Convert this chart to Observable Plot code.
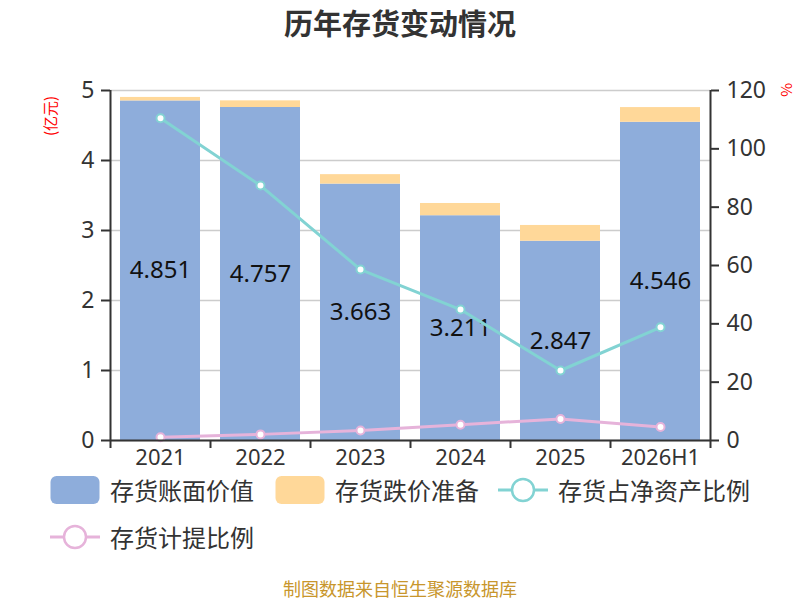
<!DOCTYPE html>
<html><head><meta charset="utf-8">
<script src="https://cdn.jsdelivr.net/npm/d3@7"></script>
<script src="https://cdn.jsdelivr.net/npm/@observablehq/plot@0.6"></script>
<style>
body{margin:0;width:800px;height:600px;position:relative;background:#fff;font-family:"Noto Sans","Noto Sans CJK SC",sans-serif;overflow:hidden;color:#333}
#title{position:absolute;left:0;top:0;width:800px;text-align:center;line-height:44px;font-size:29px;font-weight:bold;color:#333;font-family:"Noto Sans CJK SC",sans-serif}
#chart{position:absolute;left:0;top:60px}
.vlab{position:absolute;color:#f00;font-size:15px;white-space:nowrap;transform-origin:center;font-family:"Noto Sans CJK SC",sans-serif}
.leg{position:absolute;display:flex;align-items:center;height:30px;font-size:24px;line-height:24px;color:#333;white-space:nowrap;font-family:"Noto Sans CJK SC",sans-serif}
.leg svg{margin-right:10px}
#foot{position:absolute;left:0;top:576px;width:800px;text-align:center;font-size:18px;line-height:24px;color:#c8962c;font-family:"Noto Sans CJK SC",sans-serif}
</style></head><body>
<div id="title">历年存货变动情况</div>
<div id="chart"></div>
<div class="vlab" style="left:49px;top:116px;transform:translate(-50%,-50%) rotate(-90deg)">(亿元)</div>
<div class="vlab" style="left:787px;top:90px;transform:translate(-50%,-50%) rotate(90deg)">%</div>
<div id="legend"></div>
<div id="foot">制图数据来自恒生聚源数据库</div>
<script>
const categories = ["2021","2022","2023","2024","2025","2026H1"];
const bookValue = [4.851,4.757,3.663,3.211,2.847,4.546];
const reserve = [0.05,0.095,0.135,0.175,0.225,0.21];
const ratioNetAssets = [110.5,87.4,58.6,44.9,24.0,38.8];
const provisionRatio = [1.1,2.1,3.4,5.4,7.4,4.6];
const leftTicks = [0,1,2,3,4,5];
const rightTicks = [0,20,40,60,80,100,120];
const seriesNames = ["存货账面价值","存货跌价准备","存货占净资产比例","存货计提比例"];
const colors = ["#8eaddb","#ffd899","#82d3d3","#e6b3da"];

const leftMax = 5, rightMax = 120;
const pctToY = v => v * leftMax / rightMax;

const barRows = [];
categories.forEach((c,i)=>barRows.push({cat:c, series:seriesNames[0], value:bookValue[i]}));
categories.forEach((c,i)=>barRows.push({cat:c, series:seriesNames[1], value:reserve[i]}));
const bookRows = categories.map((c,i)=>({cat:c, value:bookValue[i]}));
const line1 = categories.map((c,i)=>({cat:c, y:pctToY(ratioNetAssets[i])}));
const line2 = categories.map((c,i)=>({cat:c, y:pctToY(provisionRatio[i])}));

const chart = Plot.plot({
  width: 800, height: 415,
  marginTop: 30, marginBottom: 35, marginLeft: 110, marginRight: 90,
  style: {fontSize: "23px", fontFamily: '"Noto Sans","Noto Sans CJK SC",sans-serif', color: "#333", background: "#fff"},
  x: {type: "band", domain: categories, paddingInner: 0.2, paddingOuter: 0.1, axis: null},
  y: {domain: [0, leftMax], axis: null},
  color: {domain: seriesNames.slice(0,2), range: colors.slice(0,2)},
  marks: [
    Plot.gridY(leftTicks, {stroke: "#ccc", strokeOpacity: 1, strokeWidth: 1.5}),
    Plot.barY(barRows, {x: "cat", y: "value", fill: "series"}),
    Plot.text(bookRows, {x: "cat", y: d => d.value / 2, text: d => d.value.toFixed(3), fontSize: 24, fill: "#111"}),
    Plot.line(line1, {x: "cat", y: "y", stroke: colors[2], strokeWidth: 3}),
    Plot.dot(line1, {x: "cat", y: "y", r: 4, fill: "#fff", stroke: colors[2], strokeWidth: 2}),
    Plot.line(line2, {x: "cat", y: "y", stroke: colors[3], strokeWidth: 3}),
    Plot.dot(line2, {x: "cat", y: "y", r: 4, fill: "#fff", stroke: colors[3], strokeWidth: 2}),
    Plot.ruleY([0], {stroke: "#333", strokeWidth: 2}),
    Plot.ruleX([categories[0]], {dx: -50, stroke: "#333", strokeWidth: 2}),
    Plot.ruleX([categories[categories.length-1]], {dx: 50, stroke: "#333", strokeWidth: 2}),
    Plot.axisY({anchor: "left", ticks: leftTicks, tickFormat: d => String(d), tickSize: 9, tickPadding: 7, strokeWidth: 2, stroke: "#333", fill: "#333", label: null}),
    Plot.axisY({anchor: "right", ticks: rightTicks.map(pctToY), tickFormat: d => String(Math.round(d * rightMax / leftMax)), tickSize: 8, tickPadding: 8, strokeWidth: 2, stroke: "#333", fill: "#333", label: null}),
    Plot.axisX({ticks: categories, tickSize: 0, tickPadding: 9, fontSize: 22, fill: "#333", label: null}),
    Plot.axisX({ticks: categories, tickSize: 8, tickFormat: () => "", dx: -50, strokeWidth: 2, stroke: "#333", label: null}),
    Plot.axisX({ticks: [categories[categories.length-1]], tickSize: 8, tickFormat: () => "", dx: 50, strokeWidth: 2, stroke: "#333", label: null})
  ]
});
document.getElementById("chart").appendChild(chart);

// legend
const legendPos = [[50,475],[275,475],[498,475],[50,522]];
const legend = document.getElementById("legend");
seriesNames.forEach((name,i)=>{
  const div = document.createElement("div");
  div.className = "leg";
  div.style.left = legendPos[i][0] + "px";
  div.style.top = legendPos[i][1] + "px";
  let icon;
  if (i < 2) {
    icon = `<svg width="50" height="30"><rect x="0.5" y="1" width="49" height="28" rx="6" fill="${colors[i]}"/></svg>`;
  } else {
    icon = `<svg width="50" height="30"><line x1="0" x2="50" y1="15" y2="15" stroke="${colors[i]}" stroke-width="3"/><circle cx="25" cy="15" r="11" fill="#fff" stroke="${colors[i]}" stroke-width="2.5"/></svg>`;
  }
  div.innerHTML = icon + `<span>${name}</span>`;
  legend.appendChild(div);
});
</script>
</body></html>
